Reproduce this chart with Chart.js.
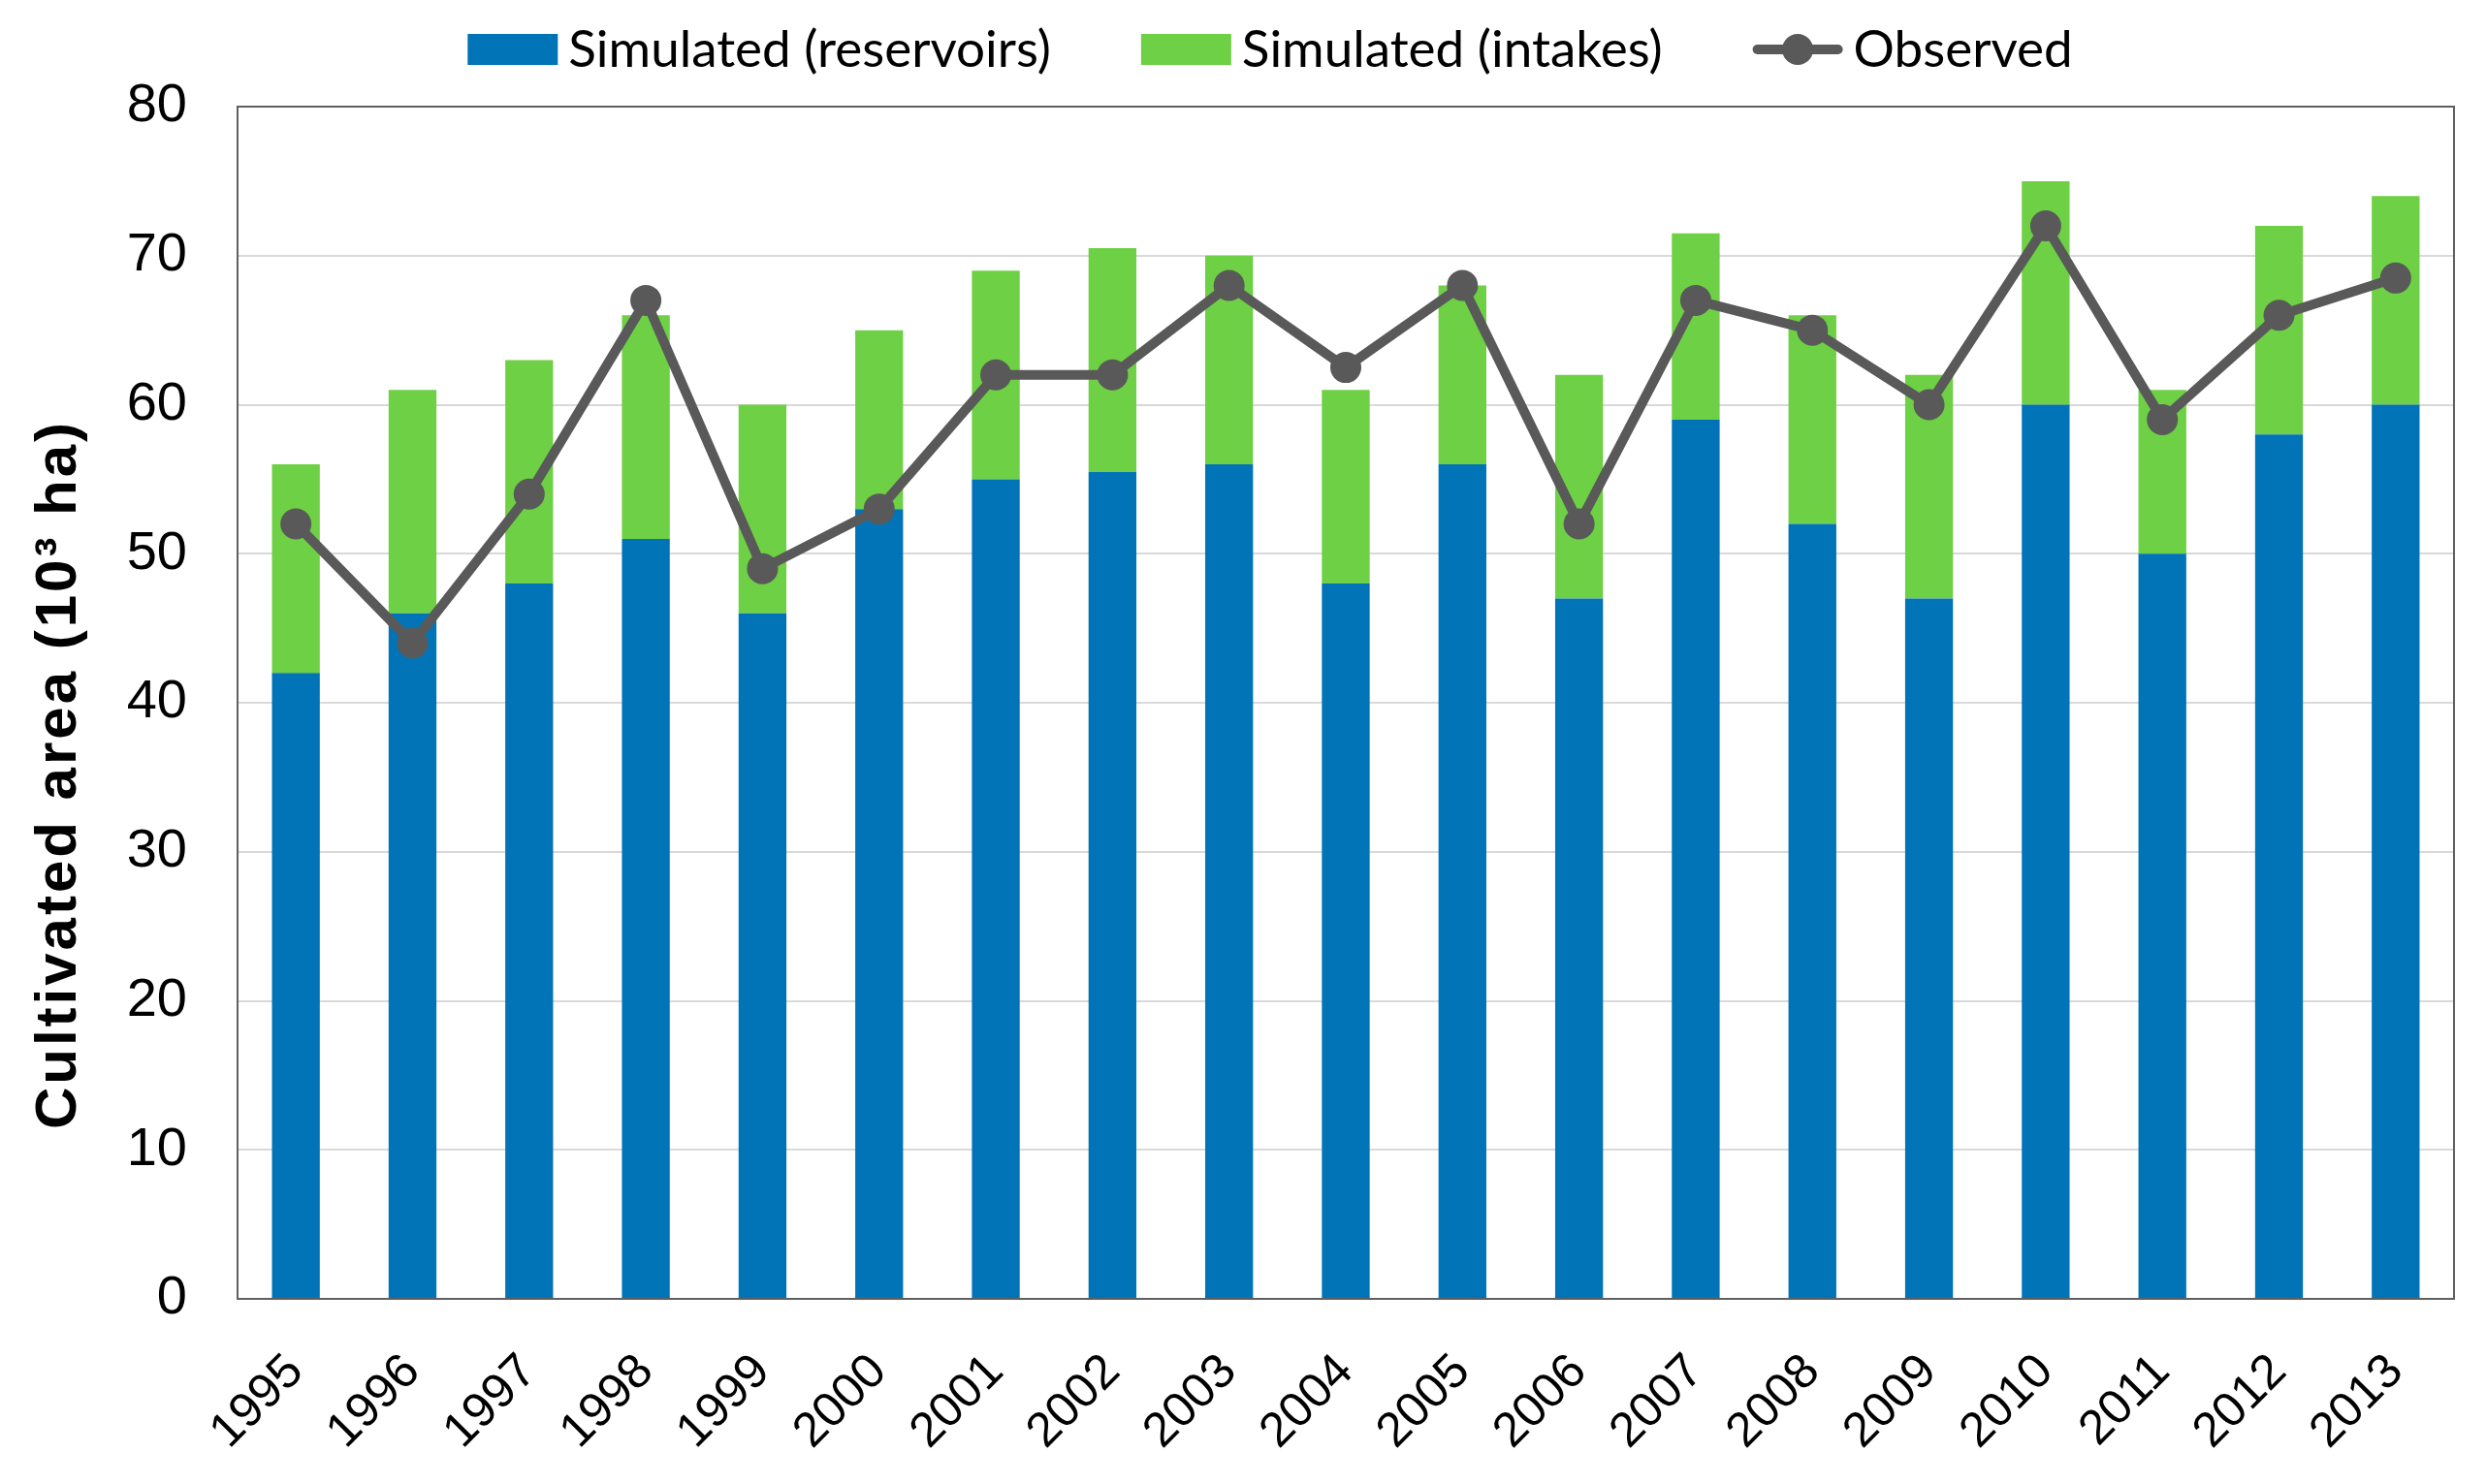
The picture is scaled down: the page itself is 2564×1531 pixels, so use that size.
<!DOCTYPE html>
<html>
<head>
<meta charset="utf-8">
<script src="https://cdn.jsdelivr.net/npm/chart.js@4.4.1/dist/chart.umd.min.js"></script>
<style>
  html, body { margin: 0; padding: 0; background: #fff; }
  canvas { display: block; }
</style>
</head>
<body>
<canvas id="areaChart" width="2564" height="1531"></canvas>
<script>
const years = ["1995", "1996", "1997", "1998", "1999", "2000", "2001", "2002", "2003", "2004",
  "2005", "2006", "2007", "2008", "2009", "2010", "2011", "2012", "2013"];
const reservoirs = [42, 46, 48, 51, 46, 53, 55, 55.5, 56, 48, 56, 47, 59, 52, 47, 60, 50, 58, 60];
const intakes = [14, 15, 15, 15, 14, 12, 14, 15, 14, 13, 12, 15, 12.5, 14, 15, 15, 11, 14, 14];
const observed = [52, 44, 54, 67, 49, 53, 62, 62, 68, 62.5, 68, 52, 67, 65, 60, 72, 59, 66, 68.5];
const yMin = 0, yMax = 80, yStep = 10;
const yTitle = "Cultivated area (10³ ha)";

const BLUE = "#0074b7";
const GREEN = "#6ed044";
const GREY = "#595959";

// legend drawn by hand so the spacing matches the Excel look
const legendPlugin = {
  id: "excelLegend",
  afterDraw(chart) {
    const ctx = chart.ctx;
    const boxW = 93, boxH = 32, textGap = 11, itemGap = 93, cy = 51;
    ctx.save();
    ctx.font = '53px Lato';
    const items = chart.data.datasets.map((ds) => ({
      ds, w: boxW + textGap + ctx.measureText(ds.label).width,
    }));
    const total = items.reduce((s, it) => s + it.w, 0) + itemGap * (items.length - 1);
    let x = chart.width / 2 + 28 - total / 2;
    items.forEach(({ ds, w }) => {
      if (ds.type === "line") {
        ctx.strokeStyle = ds.borderColor;
        ctx.lineWidth = 10;
        ctx.lineCap = "round";
        ctx.beginPath();
        ctx.moveTo(x + 5, cy);
        ctx.lineTo(x + boxW - 5, cy);
        ctx.stroke();
        ctx.fillStyle = ds.pointBackgroundColor;
        ctx.beginPath();
        ctx.arc(x + boxW / 2, cy, 16, 0, Math.PI * 2);
        ctx.fill();
      } else {
        ctx.fillStyle = ds.backgroundColor;
        ctx.fillRect(x, cy - boxH / 2, boxW, boxH);
      }
      ctx.fillStyle = "#000";
      ctx.textBaseline = "middle";
      ctx.fillText(ds.label, x + boxW + textGap, cy + 1);
      x += w + itemGap;
    });
    ctx.restore();
  },
};

const framePlugin = {
  id: "plotFrame",
  beforeDatasetsDraw(chart) {
    const { ctx, chartArea: a } = chart;
    ctx.save();
    ctx.strokeStyle = "#606060";
    ctx.lineWidth = 2;
    ctx.strokeRect(a.left, a.top, a.right - a.left, a.bottom - a.top);
    ctx.restore();
  },
};

const yTitlePlugin = {
  id: "yTitle",
  afterDraw(chart) {
    const ctx = chart.ctx;
    ctx.save();
    ctx.translate(78, 799);
    ctx.rotate(-Math.PI / 2);
    ctx.font = 'bold 60px "Liberation Sans", Arial, sans-serif';
    ctx.letterSpacing = "3px";
    ctx.fillStyle = "#000";
    ctx.textAlign = "center";
    ctx.textBaseline = "alphabetic";
    ctx.fillText(yTitle, 0, 0);
    ctx.restore();
  },
};

new Chart(document.getElementById("areaChart"), {
  data: {
    labels: years,
    datasets: [
      { type: "bar", label: "Simulated (reservoirs)", data: reservoirs, backgroundColor: BLUE, stack: "sim", order: 2,
        barPercentage: 0.41, categoryPercentage: 1.0 },
      { type: "bar", label: "Simulated (intakes)", data: intakes, backgroundColor: GREEN, stack: "sim", order: 2,
        barPercentage: 0.41, categoryPercentage: 1.0 },
      { type: "line", label: "Observed", data: observed, stack: "obs", order: 1,
        borderColor: GREY, borderWidth: 10, pointRadius: 16, pointHoverRadius: 16,
        pointBackgroundColor: GREY, pointBorderColor: GREY, pointBorderWidth: 0,
        borderJoinStyle: "round", tension: 0 },
    ],
  },
  options: {
    responsive: false,
    animation: false,
    layout: { padding: { left: 86, top: 110, right: 33, bottom: 0 } },
    plugins: { legend: { display: false }, tooltip: { enabled: false } },
    scales: {
      x: {
        stacked: true,
        offset: true,
        grid: { display: false },
        border: { display: false },
        afterFit: (scale) => { scale.height = 191; },
        ticks: {
          autoSkip: false, minRotation: 45, maxRotation: 45, padding: 38, color: "#000",
          font: { family: '"Liberation Sans", Arial, sans-serif', size: 50 },
        },
      },
      y: {
        stacked: true,
        min: yMin, max: yMax,
        grid: { color: "#d9d9d9", lineWidth: 2, drawTicks: false },
        border: { display: false },
        afterFit: (scale) => { scale.width = 159; },
        ticks: {
          stepSize: yStep, padding: 52, color: "#000",
          font: { family: '"Liberation Sans", Arial, sans-serif', size: 56 },
        },
      },
    },
  },
  plugins: [legendPlugin, framePlugin, yTitlePlugin],
});
</script>
</body>
</html>
